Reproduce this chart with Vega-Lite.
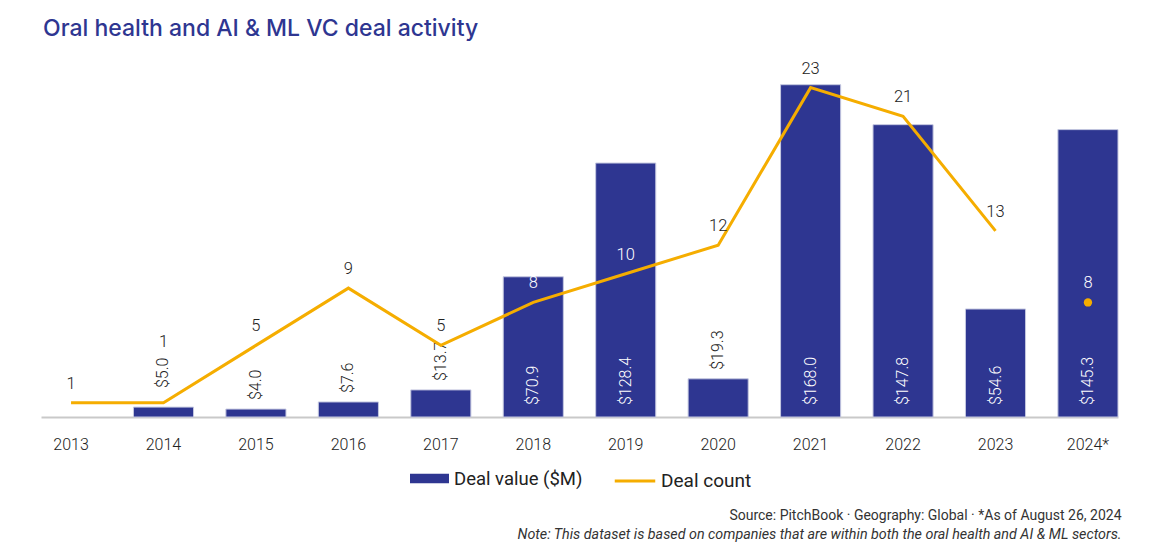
{
  "$schema": "https://vega.github.io/schema/vega-lite/v6.json",
  "width": 1077,
  "height": 358,
  "autosize": {"type": "none"},
  "padding": {"left": 41, "top": 59, "right": 42, "bottom": 137},
  "background": "white",
  "title": {
    "text": "Oral health and AI & ML VC deal activity",
    "anchor": "start",
    "frame": "group",
    "font": "Inter",
    "fontSize": 23,
    "fontWeight": 500,
    "color": "#2E3691",
    "baseline": "alphabetic",
    "offset": 0,
    "dx": 2
  },
  "config": {
    "view": {"stroke": null},
    "font": "Roboto",
    "text": {"font": "Roboto"}
  },
  "data": {
    "values": [
      {"year": "2013", "value": 0, "count": 1},
      {"year": "2014", "value": 5.0, "count": 1},
      {"year": "2015", "value": 4.0, "count": 5},
      {"year": "2016", "value": 7.6, "count": 9},
      {"year": "2017", "value": 13.7, "count": 5},
      {"year": "2018", "value": 70.9, "count": 8},
      {"year": "2019", "value": 128.4, "count": 10},
      {"year": "2020", "value": 19.3, "count": 12},
      {"year": "2021", "value": 168.0, "count": 23},
      {"year": "2022", "value": 147.8, "count": 21},
      {"year": "2023", "value": 54.6, "count": 13},
      {"year": "2024*", "value": 145.3, "count": 8}
    ]
  },
  "encoding": {
    "x": {
      "field": "year",
      "type": "nominal",
      "sort": ["2013", "2014", "2015", "2016", "2017", "2018", "2019", "2020", "2021", "2022", "2023", "2024*"],
      "scale": {
        "domain": ["2013", "2014", "2015", "2016", "2017", "2018", "2019", "2020", "2021", "2022", "2023", "2024*"],
        "paddingInner": 0.35,
        "paddingOuter": 0
      },
      "axis": {
        "title": null,
        "labelAngle": 0,
        "labelFont": "Roboto",
        "labelFontSize": 16,
        "labelFontWeight": 300,
        "labelColor": "#222222",
        "labelPadding": 19,
        "ticks": false,
        "domainColor": "#c9c9c9",
        "domainWidth": 2
      }
    }
  },
  "layer": [
    {
      "layer": [
        {
          "transform": [{"filter": "datum.value > 0"}],
          "mark": {"type": "bar", "stroke": "#c5c8e0", "strokeWidth": 1},
          "encoding": {
            "y": {
              "field": "value",
              "type": "quantitative",
              "scale": {"domain": [0, 181], "nice": false},
              "axis": {
                "labels": false,
                "ticks": false,
                "domain": false,
                "grid": false,
                "title": "Source: PitchBook  \u00b7  Geography: Global  \u00b7  *As of August 26, 2024",
                "titleAngle": 0,
                "titleAlign": "right",
                "titleBaseline": "alphabetic",
                "titleX": 1080,
                "titleY": 460,
                "titleFont": "Roboto",
                "titleFontSize": 14,
                "titleFontWeight": "normal",
                "titleColor": "#333333"
              }
            },
            "color": {
              "datum": "Deal value ($M)",
              "type": "nominal",
              "scale": {"range": ["#2E3691"]},
              "legend": {
                "orient": "none",
                "legendX": 369,
                "legendY": 400,
                "direction": "horizontal",
                "title": null,
                "labelFont": "Roboto",
                "labelFontSize": 18.5,
                "labelColor": "#222222",
                "labelOffset": 5,
                "symbolType": "M-1,-0.25H1V0.25H-1Z",
                "symbolSize": 1520,
                "symbolStrokeWidth": 0
              }
            }
          }
        },
        {
          "transform": [{"filter": "datum.value >= 50"}],
          "mark": {"type": "text", "angle": 270, "align": "left", "baseline": "middle", "dx": 12, "fontSize": 16, "fontWeight": 300, "color": "white"},
          "encoding": {
            "y": {"datum": 0, "type": "quantitative"},
            "text": {"field": "value", "type": "quantitative", "format": "$.1f"}
          }
        },
        {
          "transform": [{"filter": "datum.value > 0 && datum.value < 50 && datum.year !== '2014'"}],
          "mark": {"type": "text", "angle": 270, "align": "left", "baseline": "middle", "dx": 9, "fontSize": 16, "fontWeight": 300, "color": "#222222"},
          "encoding": {
            "y": {"field": "value", "type": "quantitative"},
            "text": {"field": "value", "type": "quantitative", "format": "$.1f"}
          }
        },
        {
          "transform": [{"filter": "datum.year === '2014'"}],
          "mark": {"type": "text", "angle": 270, "align": "left", "baseline": "middle", "dx": 19, "fontSize": 16, "fontWeight": 300, "color": "#222222"},
          "encoding": {
            "y": {"field": "value", "type": "quantitative"},
            "text": {"field": "value", "type": "quantitative", "format": "$.1f"}
          }
        }
      ]
    },
    {
      "layer": [
        {
          "transform": [{"filter": "datum.year !== '2024*'"}],
          "mark": {"type": "line", "strokeWidth": 3},
          "encoding": {
            "y": {
              "field": "count",
              "type": "quantitative",
              "scale": {"domain": [0, 25], "nice": false},
              "axis": {
                "orient": "right",
                "labels": false,
                "ticks": false,
                "domain": false,
                "grid": false,
                "title": "Note: This dataset is based on companies that are within both the oral health and AI & ML sectors.",
                "titleAngle": 0,
                "titleAlign": "right",
                "titleBaseline": "alphabetic",
                "titleX": 3,
                "titleY": 479,
                "titleFont": "Roboto",
                "titleFontSize": 14.3,
                "titleFontWeight": "normal",
                "titleFontStyle": "italic",
                "titleColor": "#333333"
              }
            },
            "stroke": {
              "datum": "Deal count",
              "type": "nominal",
              "scale": {"range": ["#F5AD00"]},
              "legend": {
                "orient": "none",
                "legendX": 572,
                "legendY": 400,
                "direction": "horizontal",
                "title": null,
                "labelFont": "Roboto",
                "labelFontSize": 19,
                "labelColor": "#222222",
                "labelOffset": 4,
                "symbolType": "stroke",
                "symbolSize": 1640,
                "symbolStrokeWidth": 3
              }
            }
          }
        },
        {
          "transform": [{"filter": "datum.year === '2024*'"}],
          "mark": {"type": "point", "filled": true, "size": 70, "color": "#F5AD00", "opacity": 1},
          "encoding": {
            "y": {"field": "count", "type": "quantitative"}
          }
        },
        {
          "transform": [{"filter": "datum.year !== '2014'"}],
          "mark": {"type": "text", "baseline": "alphabetic", "dy": -14, "fontSize": 16.5, "fontWeight": 300},
          "encoding": {
            "y": {"field": "count", "type": "quantitative"},
            "text": {"field": "count", "type": "quantitative"},
            "color": {
              "condition": {"test": "datum.year === '2018' || datum.year === '2019' || datum.year === '2024*'", "value": "white"},
              "value": "#222222"
            }
          }
        },
        {
          "transform": [{"filter": "datum.year === '2014'"}],
          "mark": {"type": "text", "baseline": "alphabetic", "dy": -56, "fontSize": 16.5, "fontWeight": 300, "color": "#222222"},
          "encoding": {
            "y": {"field": "count", "type": "quantitative"},
            "text": {"field": "count", "type": "quantitative"}
          }
        }
      ]
    }
  ],
  "resolve": {"scale": {"y": "independent"}}
}
